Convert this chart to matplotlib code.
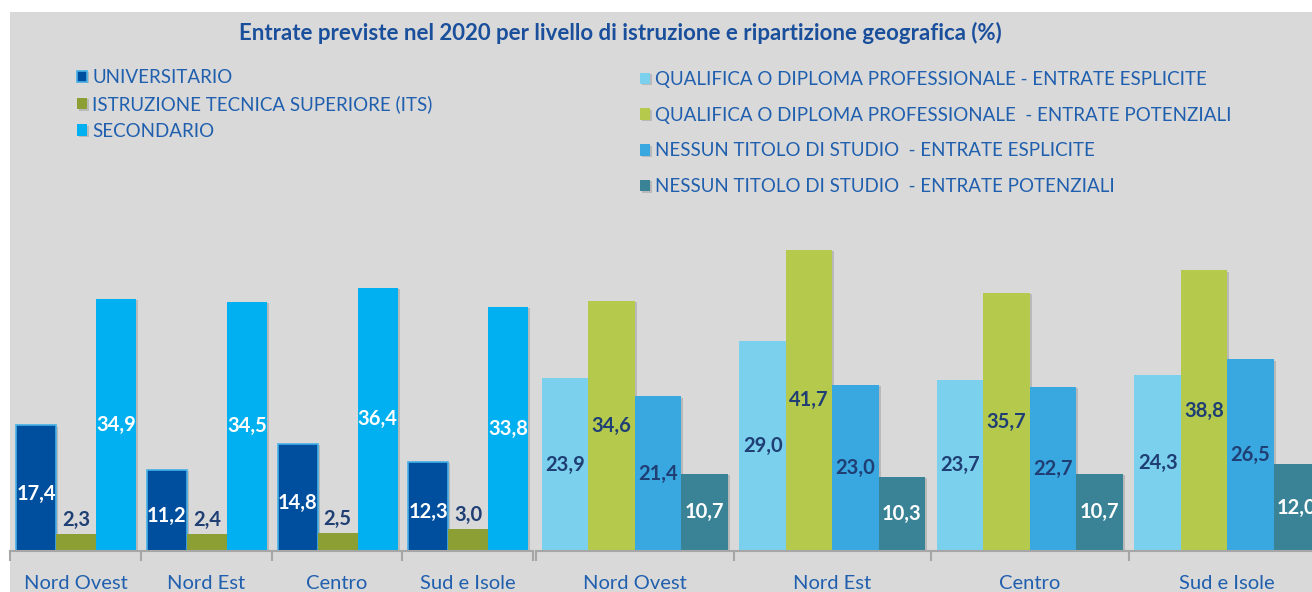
import numpy as np
import matplotlib.pyplot as plt
from matplotlib.patches import Rectangle
import matplotlib.patheffects as pe

plt.rcParams['font.family'] = ['Lato', 'DejaVu Sans']

# data
regions = ["Nord Ovest", "Nord Est", "Centro", "Sud e Isole"]

universitario = [17.4, 11.2, 14.8, 12.3]
its = [2.3, 2.4, 2.5, 3.0]
secondario = [34.9, 34.5, 36.4, 33.8]

qual_esplicite = [23.9, 29.0, 23.7, 24.3]
qual_potenziali = [34.6, 41.7, 35.7, 38.8]
nessun_esplicite = [21.4, 23.0, 22.7, 26.5]
nessun_potenziali = [10.7, 10.3, 10.7, 12.0]

left_labels = ["UNIVERSITARIO", "ISTRUZIONE TECNICA SUPERIORE (ITS)", "SECONDARIO"]
right_labels = ["QUALIFICA O DIPLOMA PROFESSIONALE - ENTRATE ESPLICITE",
                "QUALIFICA O DIPLOMA PROFESSIONALE  - ENTRATE POTENZIALI",
                "NESSUN TITOLO DI STUDIO  - ENTRATE ESPLICITE",
                "NESSUN TITOLO DI STUDIO  - ENTRATE POTENZIALI"]

title = "Entrate previste nel 2020 per livello di istruzione e ripartizione geografica (%)"

# colours
dark_txt = "#1f3f74"
blue_txt = "#1f5fae"
axis_gray = "#a6a6a6"

W, H = 1312, 592
fig = plt.figure(figsize=(W / 100, H / 100), dpi=100)
fig.patch.set_facecolor("white")
bg = Rectangle((10 / W, 0), 1, (H - 12) / H, transform=fig.transFigure,
               facecolor="#d9d9d9", edgecolor="none")
bg.set_zorder(-10)
fig.add_artist(bg)

base_px = 551
top_px = 200
px_per_unit = 7.23
ymax = (base_px - top_px) / px_per_unit


def make_axes(x0, x1):
    ax = fig.add_axes([x0 / W, (H - base_px) / H, (x1 - x0) / W, (base_px - top_px) / H])
    ax.set_facecolor("none")
    ax.set_zorder(1)
    ax.set_xlim(0, 4)
    ax.set_ylim(0, ymax)
    for s in ["top", "right", "left"]:
        ax.spines[s].set_visible(False)
    ax.spines["bottom"].set_color(axis_gray)
    ax.spines["bottom"].set_linewidth(1.5)
    ax.set_yticks([])
    ax.set_xticks(range(5))
    ax.set_xticklabels([])
    ax.tick_params(axis="x", which="major", length=7, width=1.5, color=axis_gray)
    ax.set_xticks(np.arange(4) + 0.5, minor=True)
    ax.set_xticklabels(regions, minor=True, fontsize=14.5, color=blue_txt)
    ax.tick_params(axis="x", which="minor", length=0, pad=17)
    return ax


shadow = [pe.SimplePatchShadow(offset=(1.5, -1), shadow_rgbFace="#808080", alpha=0.35), pe.Normal()]

# ---- left chart ----
axl = make_axes(10, 533)
x = np.arange(4)
wl = 0.306
off_l = 0.046
b1 = axl.bar(x + off_l, universitario, wl, align="edge", color="#004f9f",
             edgecolor="#45b0e6", linewidth=1.2, path_effects=shadow)
b2 = axl.bar(x + off_l + wl, its, wl, align="edge", color="#8c9f34", path_effects=shadow)
b3 = axl.bar(x + off_l + 2 * wl, secondario, wl, align="edge", color="#00b0f0", path_effects=shadow)

lab_kw = dict(ha="center", va="center", fontsize=14.5, fontweight="bold")
for i in range(4):
    axl.text(x[i] + off_l + wl / 2, universitario[i] / 2 - 0.8, f"{universitario[i]:.1f}".replace(".", ","),
             color="white", **lab_kw)
    axl.annotate(f"{its[i]:.1f}".replace(".", ","), (x[i] + off_l + 1.5 * wl, its[i]),
                 xytext=(0, 3), textcoords="offset points", ha="center", va="bottom",
                 fontsize=14.5, fontweight="bold", color=dark_txt)
    axl.text(x[i] + off_l + 2.5 * wl, secondario[i] / 2, f"{secondario[i]:.1f}".replace(".", ","),
             color="white", **lab_kw)

# ---- right chart ----
axr = make_axes(536, 1326)
wr = 0.235
off_r = 0.03
series_r = [qual_esplicite, qual_potenziali, nessun_esplicite, nessun_potenziali]
colors_r = ["#7bd0ee", "#b5c94c", "#3aa8e0", "#3a8397"]
txt_r = [dark_txt, dark_txt, dark_txt, "white"]
bars_r = []
for k, vals in enumerate(series_r):
    b = axr.bar(x + off_r + k * wr, vals, wr, align="edge", color=colors_r[k], path_effects=shadow)
    bars_r.append(b)
    for i in range(4):
        axr.text(x[i] + off_r + (k + 0.5) * wr, vals[i] / 2, f"{vals[i]:.1f}".replace(".", ","),
                 color=txt_r[k], **lab_kw)

# ---- title and legends ----
fig.text(620 / W, (H - 33) / H, title, ha="center", va="center", fontsize=16,
         fontweight="bold", color="#1a4f9c")

leg_kw = dict(frameon=False, fontsize=13.5, handlelength=0.55, handleheight=0.55,
              handletextpad=0.25, borderpad=0, borderaxespad=0, labelcolor=blue_txt)
fig.legend([b1, b2, b3], left_labels, loc="upper left",
           bbox_to_anchor=(77 / W, (H - 69) / H), labelspacing=0.5, **leg_kw)
fig.legend(bars_r, right_labels, loc="upper left",
           bbox_to_anchor=(640 / W, (H - 71) / H), labelspacing=1.0, **leg_kw)

fig.savefig("out.png", dpi=100, facecolor=fig.get_facecolor())
